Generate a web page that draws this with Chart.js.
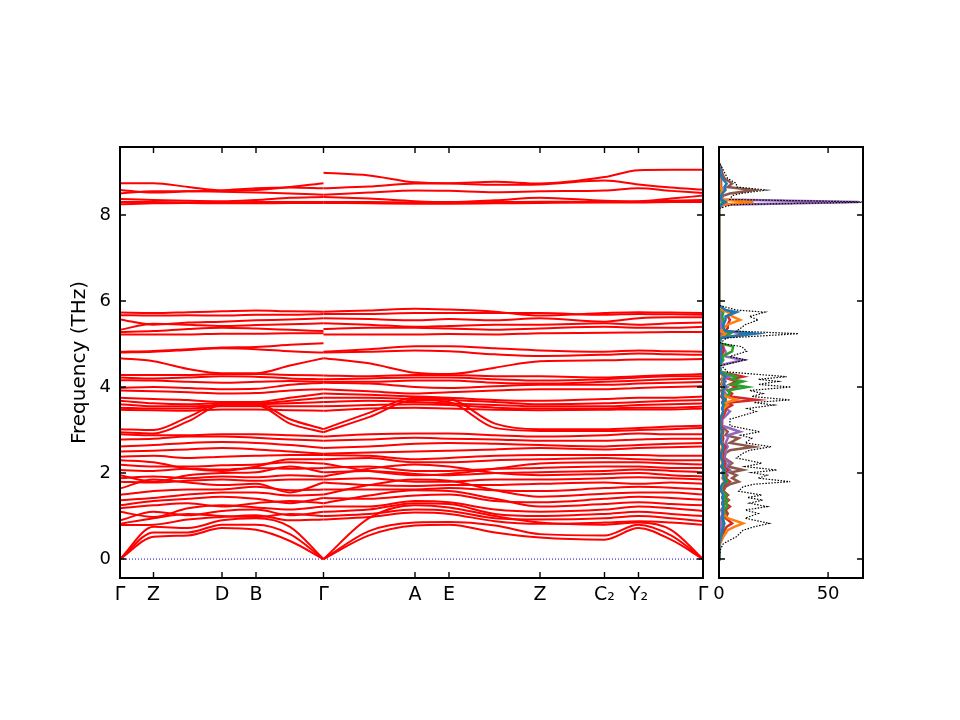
<!DOCTYPE html>
<html lang="en">
<head>
<meta charset="UTF-8">
<title>Phonon bands and DOS</title>
<style>
  body { margin: 0; background: #fff; }
  #wrap { position: relative; width: 960px; height: 720px; }
  canvas { position: absolute; top: 0; }
  #bands { left: 0; }
  #dos { left: 690px; }
</style>
</head>
<body>
<div id="wrap">
  <canvas id="bands" width="730" height="720"></canvas>
  <canvas id="dos" width="270" height="720"></canvas>
</div>
<script src="https://cdn.jsdelivr.net/npm/chart.js"></script>
<script>
// high-symmetry path (distance along path)
const kLabels = ['Γ', 'Z', 'D', 'B', 'Γ', 'A', 'E', 'Z', 'C₂', 'Y₂', 'Γ'];
const kTicks = [0, 33.5, 102, 136, 203.5, 295, 329, 420, 484.5, 518.5, 583];
// sample points of the two path segments
const kLeft = [0, 33.5, 68, 102, 136, 170, 203.5];
const kRight = [203.5, 249, 295, 329, 375, 420, 484.5, 518.5, 551, 583];
const freqTicks = [0, 2, 4, 6, 8];
const dosTicks = [0, 50];

// frequencies (THz) along Γ-Z-D-B-Γ
const leftBands = [
  [0, 0.52, 0.55, 0.72, 0.68, 0.42, 0],
  [0, 0.62, 0.62, 0.80, 0.80, 0.58, 0],
  [0, 0.75, 0.72, 0.90, 0.95, 0.75, 0],
  [0.79, 0.80, 0.92, 0.98, 1.02, 0.90, 0.92],
  [0.82, 0.95, 1.05, 1.00, 0.98, 1.05, 1.00],
  [0.90, 1.10, 1.02, 1.12, 1.15, 1.02, 1.10],
  [1.10, 0.98, 1.18, 1.25, 1.20, 1.15, 1.22],
  [1.18, 1.25, 1.30, 1.22, 1.30, 1.35, 1.30],
  [1.25, 1.35, 1.40, 1.45, 1.40, 1.30, 1.42],
  [1.37, 1.42, 1.50, 1.55, 1.55, 1.48, 1.50],
  [1.49, 1.58, 1.62, 1.62, 1.68, 1.60, 1.62],
  [1.64, 1.85, 1.78, 1.72, 1.75, 1.55, 1.78],
  [1.80, 1.78, 1.82, 1.85, 1.82, 1.85, 1.85],
  [1.88, 1.92, 1.88, 1.92, 1.90, 1.95, 1.92],
  [1.95, 1.80, 1.95, 2.00, 2.02, 2.15, 2.02],
  [2.07, 2.05, 2.10, 2.08, 2.12, 2.10, 2.12],
  [2.19, 2.15, 2.15, 2.18, 2.20, 2.25, 2.22],
  [2.30, 2.25, 2.10, 2.05, 2.15, 2.32, 2.32],
  [2.38, 2.40, 2.35, 2.38, 2.40, 2.42, 2.42],
  [2.50, 2.52, 2.55, 2.58, 2.55, 2.50, 2.45],
  [2.62, 2.65, 2.70, 2.72, 2.70, 2.65, 2.58],
  [2.78, 2.80, 2.85, 2.85, 2.82, 2.78, 2.75],
  [2.90, 2.88, 2.88, 2.90, 2.90, 2.88, 2.85],
  [2.95, 2.92, 3.20, 3.58, 3.58, 3.15, 2.95],
  [3.02, 3.00, 3.30, 3.62, 3.62, 3.25, 3.02],
  [3.47, 3.46, 3.45, 3.48, 3.48, 3.46, 3.45],
  [3.52, 3.50, 3.50, 3.55, 3.55, 3.55, 3.55],
  [3.60, 3.55, 3.55, 3.58, 3.60, 3.62, 3.65],
  [3.68, 3.62, 3.60, 3.62, 3.62, 3.68, 3.75],
  [3.75, 3.72, 3.70, 3.65, 3.65, 3.75, 3.85],
  [3.92, 3.90, 3.88, 3.85, 3.86, 3.92, 3.95],
  [3.98, 4.00, 3.98, 3.95, 3.96, 4.05, 4.10],
  [4.16, 4.15, 4.12, 4.10, 4.12, 4.14, 4.12],
  [4.22, 4.20, 4.22, 4.25, 4.24, 4.20, 4.18],
  [4.28, 4.28, 4.28, 4.30, 4.30, 4.28, 4.27],
  [4.67, 4.60, 4.42, 4.32, 4.32, 4.50, 4.67],
  [4.80, 4.82, 4.86, 4.90, 4.88, 4.83, 4.80],
  [4.82, 4.84, 4.88, 4.92, 4.93, 4.98, 5.02],
  [5.22, 5.22, 5.22, 5.24, 5.24, 5.25, 5.25],
  [5.28, 5.30, 5.35, 5.38, 5.36, 5.33, 5.30],
  [5.33, 5.47, 5.45, 5.42, 5.44, 5.46, 5.48],
  [5.57, 5.45, 5.50, 5.52, 5.55, 5.57, 5.60],
  [5.67, 5.66, 5.67, 5.66, 5.68, 5.68, 5.70],
  [5.73, 5.72, 5.74, 5.76, 5.78, 5.76, 5.75],
  [8.25, 8.27, 8.28, 8.27, 8.27, 8.28, 8.28],
  [8.30, 8.30, 8.29, 8.29, 8.30, 8.30, 8.30],
  [8.37, 8.35, 8.33, 8.32, 8.35, 8.40, 8.42],
  [8.50, 8.55, 8.55, 8.54, 8.52, 8.50, 8.47],
  [8.58, 8.52, 8.55, 8.57, 8.62, 8.64, 8.62],
  [8.74, 8.74, 8.65, 8.57, 8.58, 8.65, 8.74]
];

// frequencies (THz) along Γ-A-E-Z-C2-Y2-Γ
const rightBands = [
  [0, 0.55, 0.78, 0.80, 0.62, 0.50, 0.45, 0.72, 0.45, 0],
  [0, 0.65, 0.85, 0.86, 0.78, 0.58, 0.55, 0.80, 0.55, 0],
  [0, 0.95, 1.25, 1.20, 1.00, 0.85, 0.80, 0.85, 0.68, 0],
  [0.92, 0.98, 1.08, 1.05, 0.88, 0.82, 0.85, 0.88, 0.85, 0.80],
  [1.00, 1.05, 1.15, 1.12, 0.95, 0.92, 0.95, 1.00, 0.95, 0.88],
  [1.10, 1.15, 1.30, 1.28, 1.05, 1.00, 1.05, 1.10, 1.05, 1.00],
  [1.22, 1.22, 1.35, 1.32, 1.15, 1.10, 1.15, 1.22, 1.18, 1.12],
  [1.30, 1.48, 1.60, 1.58, 1.40, 1.22, 1.28, 1.32, 1.28, 1.25],
  [1.42, 1.40, 1.48, 1.50, 1.35, 1.32, 1.40, 1.45, 1.42, 1.38],
  [1.50, 1.72, 1.85, 1.82, 1.60, 1.45, 1.52, 1.55, 1.55, 1.50],
  [1.62, 1.62, 1.62, 1.65, 1.60, 1.58, 1.65, 1.68, 1.66, 1.62],
  [1.78, 1.72, 1.70, 1.72, 1.72, 1.75, 1.78, 1.75, 1.78, 1.75],
  [1.85, 1.88, 1.80, 1.80, 1.85, 1.85, 1.88, 1.90, 1.88, 1.85],
  [1.92, 2.10, 2.20, 2.15, 2.00, 1.95, 1.98, 2.00, 1.95, 1.92],
  [2.02, 2.05, 1.98, 1.95, 2.00, 2.02, 2.05, 2.08, 2.05, 2.02],
  [2.12, 2.15, 2.05, 2.05, 2.10, 2.12, 2.15, 2.15, 2.12, 2.12],
  [2.22, 2.05, 1.95, 1.98, 2.10, 2.22, 2.25, 2.25, 2.22, 2.20],
  [2.32, 2.35, 2.25, 2.25, 2.30, 2.32, 2.35, 2.32, 2.30, 2.30],
  [2.42, 2.40, 2.32, 2.35, 2.40, 2.42, 2.42, 2.42, 2.40, 2.40],
  [2.45, 2.48, 2.50, 2.52, 2.55, 2.58, 2.55, 2.58, 2.60, 2.62],
  [2.58, 2.62, 2.68, 2.70, 2.68, 2.65, 2.62, 2.65, 2.68, 2.70],
  [2.75, 2.78, 2.82, 2.80, 2.78, 2.75, 2.75, 2.78, 2.80, 2.80],
  [2.85, 2.90, 2.92, 2.92, 2.88, 2.85, 2.88, 2.92, 2.90, 2.90],
  [2.95, 3.30, 3.70, 3.65, 3.05, 2.98, 2.98, 3.00, 3.02, 3.05],
  [3.02, 3.40, 3.75, 3.72, 3.15, 3.02, 3.02, 3.05, 3.08, 3.10],
  [3.45, 3.50, 3.52, 3.50, 3.47, 3.46, 3.47, 3.48, 3.48, 3.50],
  [3.55, 3.58, 3.60, 3.58, 3.52, 3.50, 3.50, 3.52, 3.52, 3.55],
  [3.65, 3.68, 3.65, 3.62, 3.58, 3.55, 3.55, 3.58, 3.60, 3.62],
  [3.75, 3.75, 3.72, 3.70, 3.65, 3.60, 3.62, 3.65, 3.68, 3.70],
  [3.85, 3.82, 3.78, 3.75, 3.70, 3.68, 3.72, 3.75, 3.75, 3.78],
  [3.95, 3.90, 3.85, 3.88, 3.92, 3.95, 3.95, 3.98, 4.00, 4.02],
  [4.10, 4.08, 4.00, 3.98, 4.02, 4.05, 4.05, 4.08, 4.10, 4.12],
  [4.12, 4.12, 4.15, 4.15, 4.10, 4.08, 4.12, 4.15, 4.18, 4.20],
  [4.18, 4.20, 4.22, 4.22, 4.18, 4.15, 4.18, 4.22, 4.25, 4.25],
  [4.27, 4.25, 4.28, 4.28, 4.25, 4.25, 4.22, 4.25, 4.28, 4.30],
  [4.67, 4.55, 4.33, 4.30, 4.45, 4.60, 4.62, 4.64, 4.64, 4.65],
  [4.80, 4.82, 4.85, 4.83, 4.76, 4.72, 4.75, 4.78, 4.76, 4.75],
  [4.82, 4.88, 4.95, 4.95, 4.90, 4.85, 4.82, 4.85, 4.83, 4.82],
  [5.22, 5.22, 5.22, 5.23, 5.22, 5.25, 5.26, 5.27, 5.28, 5.28],
  [5.35, 5.38, 5.38, 5.36, 5.33, 5.36, 5.40, 5.38, 5.38, 5.40],
  [5.48, 5.45, 5.40, 5.42, 5.45, 5.45, 5.48, 5.45, 5.48, 5.50],
  [5.60, 5.58, 5.55, 5.58, 5.55, 5.60, 5.52, 5.60, 5.62, 5.62],
  [5.70, 5.70, 5.72, 5.72, 5.72, 5.72, 5.68, 5.70, 5.69, 5.68],
  [5.75, 5.78, 5.82, 5.80, 5.75, 5.66, 5.72, 5.74, 5.73, 5.72],
  [8.28, 8.27, 8.26, 8.26, 8.27, 8.28, 8.29, 8.29, 8.30, 8.30],
  [8.30, 8.30, 8.29, 8.29, 8.30, 8.31, 8.30, 8.31, 8.33, 8.35],
  [8.42, 8.38, 8.32, 8.30, 8.34, 8.40, 8.33, 8.32, 8.38, 8.45],
  [8.47, 8.52, 8.57, 8.56, 8.53, 8.55, 8.57, 8.62, 8.56, 8.51],
  [8.62, 8.66, 8.73, 8.73, 8.70, 8.71, 8.80, 8.71, 8.64, 8.59],
  [8.98, 8.92, 8.76, 8.74, 8.77, 8.73, 8.88, 9.04, 9.05, 9.05]
];

// density of states (states/THz) on a frequency grid
const dosFreq = [0.00, 0.24, 0.36, 0.52, 0.67, 0.75, 0.83, 0.95, 1.06, 1.14,
  1.22, 1.30, 1.37, 1.43, 1.49, 1.58, 1.68, 1.74, 1.80, 1.88,
  1.95, 2.01, 2.07, 2.15, 2.23, 2.35, 2.46, 2.53, 2.61, 2.70,
  2.81, 2.88, 2.96, 3.10, 3.25, 3.43, 3.50, 3.58, 3.64, 3.70,
  3.78, 3.85, 3.92, 4.00, 4.06, 4.13, 4.18, 4.24, 4.35, 4.50,
  4.63, 4.71, 4.83, 4.94, 5.02, 5.14, 5.24, 5.30, 5.37, 5.45,
  5.56, 5.64, 5.74, 5.79, 5.90, 8.15, 8.24, 8.30, 8.36, 8.45,
  8.50, 8.58, 8.65, 8.73, 8.85, 8.97, 9.12, 9.20];
const dosTotal = [0, 0.8, 2, 8, 11, 16, 23, 12, 18, 12,
  22, 14, 20, 13, 19.6, 9, 11, 16, 32.6, 18,
  22, 15, 26.5, 12, 19.6, 8, 11, 14, 24, 12,
  15, 10, 18.8, 5, 5, 17, 13, 25, 16, 32.6,
  15, 20, 14, 33, 18, 27, 18, 31, 4, 1,
  12, 5, 12.7, 10.4, 0.5, 3.5, 36.4, 8, 10, 12,
  18, 14, 21, 8, 0, 0, 6, 70, 5, 6,
  10, 21.8, 8, 8, 4, 2.7, 1.2, 0];
const pdosBlue = [0, 0.1, 0.3, 1, 1.5, 2, 2.5, 1.5, 2, 1.5,
  2, 1.5, 2, 1.5, 2, 1, 1, 1.5, 3, 2,
  2, 1.5, 2.5, 1, 2, 1, 1, 1.5, 2, 1,
  1, 1, 1.5, 0.5, 0.5, 2, 1.5, 2, 1.5, 3,
  1.5, 2, 1.5, 3, 2, 2.5, 2, 3, 0.5, 0.2,
  1, 0.5, 1, 1, 0.1, 0.5, 16.5, 3, 2, 2,
  3, 3, 8, 3, 0, 0, 1, 3, 1, 1,
  1.5, 3, 2.5, 3.5, 1.5, 0.5, 0.2, 0];
const pdosOrange = [0, 0.2, 0.5, 2, 4, 7, 11, 4, 2, 1.5,
  2, 1.5, 2, 1.5, 2, 1, 1, 1.5, 2.5, 1.5,
  2, 1.5, 2, 1, 1.5, 1, 1, 1, 1.5, 1,
  1, 1, 1, 0.5, 0.5, 2, 2, 4, 3, 8,
  3, 2, 1.5, 2, 1.5, 2, 1.5, 2, 0.5, 0.1,
  0.5, 0.3, 0.5, 0.5, 0.1, 0.5, 3, 1, 2, 4,
  9.6, 6, 4, 1.5, 0, 0, 1.5, 15.8, 1, 1,
  1, 1.5, 0.5, 0.5, 0.3, 0.2, 0.1, 0];
const pdosGreen = [0, 0.1, 0.3, 1, 1.5, 2, 2, 2, 3, 2,
  4, 3, 4, 2.5, 3.5, 1.5, 1.5, 2, 4, 2.5,
  3, 2, 3, 1.5, 2, 1, 1, 1.5, 2, 1,
  1, 1, 1.5, 0.5, 0.5, 2, 2, 3, 2, 3,
  3, 5, 4, 13, 6, 11, 6, 8, 1, 0.2,
  2, 1.5, 6, 6.5, 0.2, 1, 5, 1.5, 2, 2,
  2, 1.5, 2, 1, 0, 0, 0.5, 2, 0.5, 0.5,
  0.5, 1, 0.5, 0.5, 0.3, 0.2, 0.1, 0];
const pdosRed = [0, 0.2, 0.4, 1.5, 2.5, 3.5, 6, 3, 4, 3,
  5, 3, 4.5, 3, 4, 2, 2, 3, 5, 3,
  3.5, 2.5, 4, 2, 3, 1.5, 2, 2, 3, 1.5,
  2, 1.5, 2, 1, 1, 3, 3, 6, 5, 17.3,
  5, 6, 4, 8, 5, 8, 5, 11, 1, 0.2,
  1.5, 1, 2, 2, 0.1, 1, 14, 3, 4, 4,
  5, 4, 6, 2, 0, 0, 0.5, 2, 0.5, 0.5,
  0.5, 1, 0.5, 0.5, 0.3, 0.2, 0.1, 0];
const pdosPurple = [0, 0.1, 0.3, 1, 1, 1, 1, 1, 1.5, 1,
  2, 1.5, 2, 1.5, 2.5, 1.5, 2, 2.5, 4, 3,
  4, 3, 5, 3, 5, 2, 3, 3, 4, 3,
  4, 4, 9.6, 1.5, 1.5, 5, 3, 5, 3, 3,
  2, 3, 2, 4, 2, 3, 2, 5, 1, 0.2,
  11, 3, 3, 1.5, 0.1, 0.5, 2, 0.5, 1, 1,
  1, 0.8, 1, 0.5, 0, 0, 2, 64, 1.5, 1,
  1.5, 2, 1, 1, 1, 0.8, 0.3, 0];
const pdosBrown = [0, 0.1, 0.2, 1, 1, 1.5, 1.5, 1, 2, 1.5,
  2.5, 2, 3, 2, 4, 2, 3, 5, 9, 6,
  8, 5, 11, 4, 6, 2.5, 3, 5, 15.8, 5,
  9, 3, 4, 1, 1, 2, 1.5, 2, 1.5, 2,
  1, 1.5, 1, 2, 1, 1.5, 1, 2, 0.5, 0.1,
  1, 0.5, 0.5, 0.5, 0.1, 0.3, 1, 0.3, 0.5, 0.5,
  0.5, 0.5, 0.5, 0.3, 0, 0, 0.5, 3, 0.8, 2,
  5, 15.8, 4, 6, 2.5, 1.5, 0.8, 0];

const fMin = -0.44, fMax = 9.58;

Chart.defaults.font.family = 'DejaVu Sans';
Chart.defaults.font.size = 18;
Chart.defaults.color = '#000';

// matplotlib-like frame with inward ticks on all four sides
const frameTicks = {
  id: 'frameTicks',
  afterDatasetsDraw(chart, args, opts) {
    const { ctx, chartArea: a, scales } = chart;
    const len = 6;
    ctx.save();
    ctx.strokeStyle = '#000';
    ctx.lineWidth = 1.4;
    ctx.beginPath();
    opts.xTicks.forEach(v => {
      const x = scales.x.getPixelForValue(v);
      ctx.moveTo(x, a.bottom); ctx.lineTo(x, a.bottom - len);
      ctx.moveTo(x, a.top); ctx.lineTo(x, a.top + len);
    });
    opts.yTicks.forEach(v => {
      const y = scales.y.getPixelForValue(v);
      ctx.moveTo(a.left, y); ctx.lineTo(a.left + len, y);
      ctx.moveTo(a.right, y); ctx.lineTo(a.right - len, y);
    });
    ctx.stroke();
    ctx.lineWidth = 2;
    ctx.strokeRect(a.left, a.top, a.right - a.left, a.bottom - a.top);
    ctx.restore();
  }
};

// band structure panel
const bandSets = [];
leftBands.forEach(b => {
  bandSets.push({
    data: kLeft.map((k, i) => ({ x: k, y: b[i] })),
    borderColor: '#ff0000', borderWidth: 2, pointRadius: 0,
    cubicInterpolationMode: 'monotone', fill: false
  });
});
rightBands.forEach(b => {
  bandSets.push({
    data: kRight.map((k, i) => ({ x: k, y: b[i] })),
    borderColor: '#ff0000', borderWidth: 2, pointRadius: 0,
    cubicInterpolationMode: 'monotone', fill: false
  });
});
bandSets.push({
  data: [{ x: kTicks[0], y: 0 }, { x: kTicks[kTicks.length - 1], y: 0 }],
  borderColor: '#0000cc', borderWidth: 1, borderDash: [1, 2], pointRadius: 0, fill: false
});

new Chart(document.getElementById('bands'), {
  type: 'line',
  data: { datasets: bandSets },
  options: {
    responsive: false, animation: false, devicePixelRatio: 1,
    layout: { padding: { left: 60, top: 147, right: 27, bottom: 102 } },
    plugins: {
      legend: { display: false }, tooltip: { enabled: false },
      frameTicks: { xTicks: kTicks, yTicks: freqTicks }
    },
    scales: {
      x: {
        type: 'linear', min: 0, max: 583,
        afterBuildTicks: s => { s.ticks = kTicks.map(v => ({ value: v })); },
        afterFit: s => { s.height = 40; },
        grid: { display: false, drawTicks: false },
        border: { display: false },
        ticks: { autoSkip: false, maxRotation: 0, padding: 6, font: { size: 19 }, callback: (v, i) => kLabels[i] }
      },
      y: {
        type: 'linear', min: fMin, max: fMax,
        afterBuildTicks: s => { s.ticks = freqTicks.map(v => ({ value: v })); },
        afterFit: s => { s.width = 60; },
        grid: { display: false, drawTicks: false },
        border: { display: false },
        ticks: { padding: 9 },
        title: { display: true, text: 'Frequency (THz)', font: { size: 20 }, padding: { top: 8, bottom: 0 } }
      }
    }
  },
  plugins: [frameTicks]
});

// DOS panel
const pdosList = [pdosBlue, pdosOrange, pdosGreen, pdosRed, pdosPurple, pdosBrown];
const pdosColors = ['#1f77b4', '#ff7f0e', '#2ca02c', '#d62728', '#9467bd', '#8c564b'];
const dosSets = [{
  data: dosFreq.map((f, i) => ({ x: dosTotal[i], y: f })),
  borderColor: '#000', borderWidth: 1.2, borderDash: [1.5, 1.5], pointRadius: 0, fill: false
}];
pdosList.forEach((p, j) => {
  dosSets.push({
    data: dosFreq.map((f, i) => ({ x: p[i], y: f })),
    borderColor: pdosColors[j], borderWidth: 2.5, pointRadius: 0, fill: false
  });
});

new Chart(document.getElementById('dos'), {
  type: 'line',
  data: { datasets: dosSets },
  options: {
    responsive: false, animation: false, devicePixelRatio: 1,
    layout: { padding: { left: 29, top: 147, right: 97, bottom: 102 } },
    plugins: {
      legend: { display: false }, tooltip: { enabled: false },
      frameTicks: { xTicks: dosTicks, yTicks: freqTicks }
    },
    scales: {
      x: {
        type: 'linear', min: 0, max: 66,
        afterBuildTicks: s => { s.ticks = dosTicks.map(v => ({ value: v })); },
        afterFit: s => { s.height = 40; },
        grid: { display: false, drawTicks: false },
        border: { display: false },
        ticks: { autoSkip: false, maxRotation: 0, padding: 6 }
      },
      y: { type: 'linear', min: fMin, max: fMax, display: false }
    }
  },
  plugins: [frameTicks]
});
</script>
</body>
</html>
